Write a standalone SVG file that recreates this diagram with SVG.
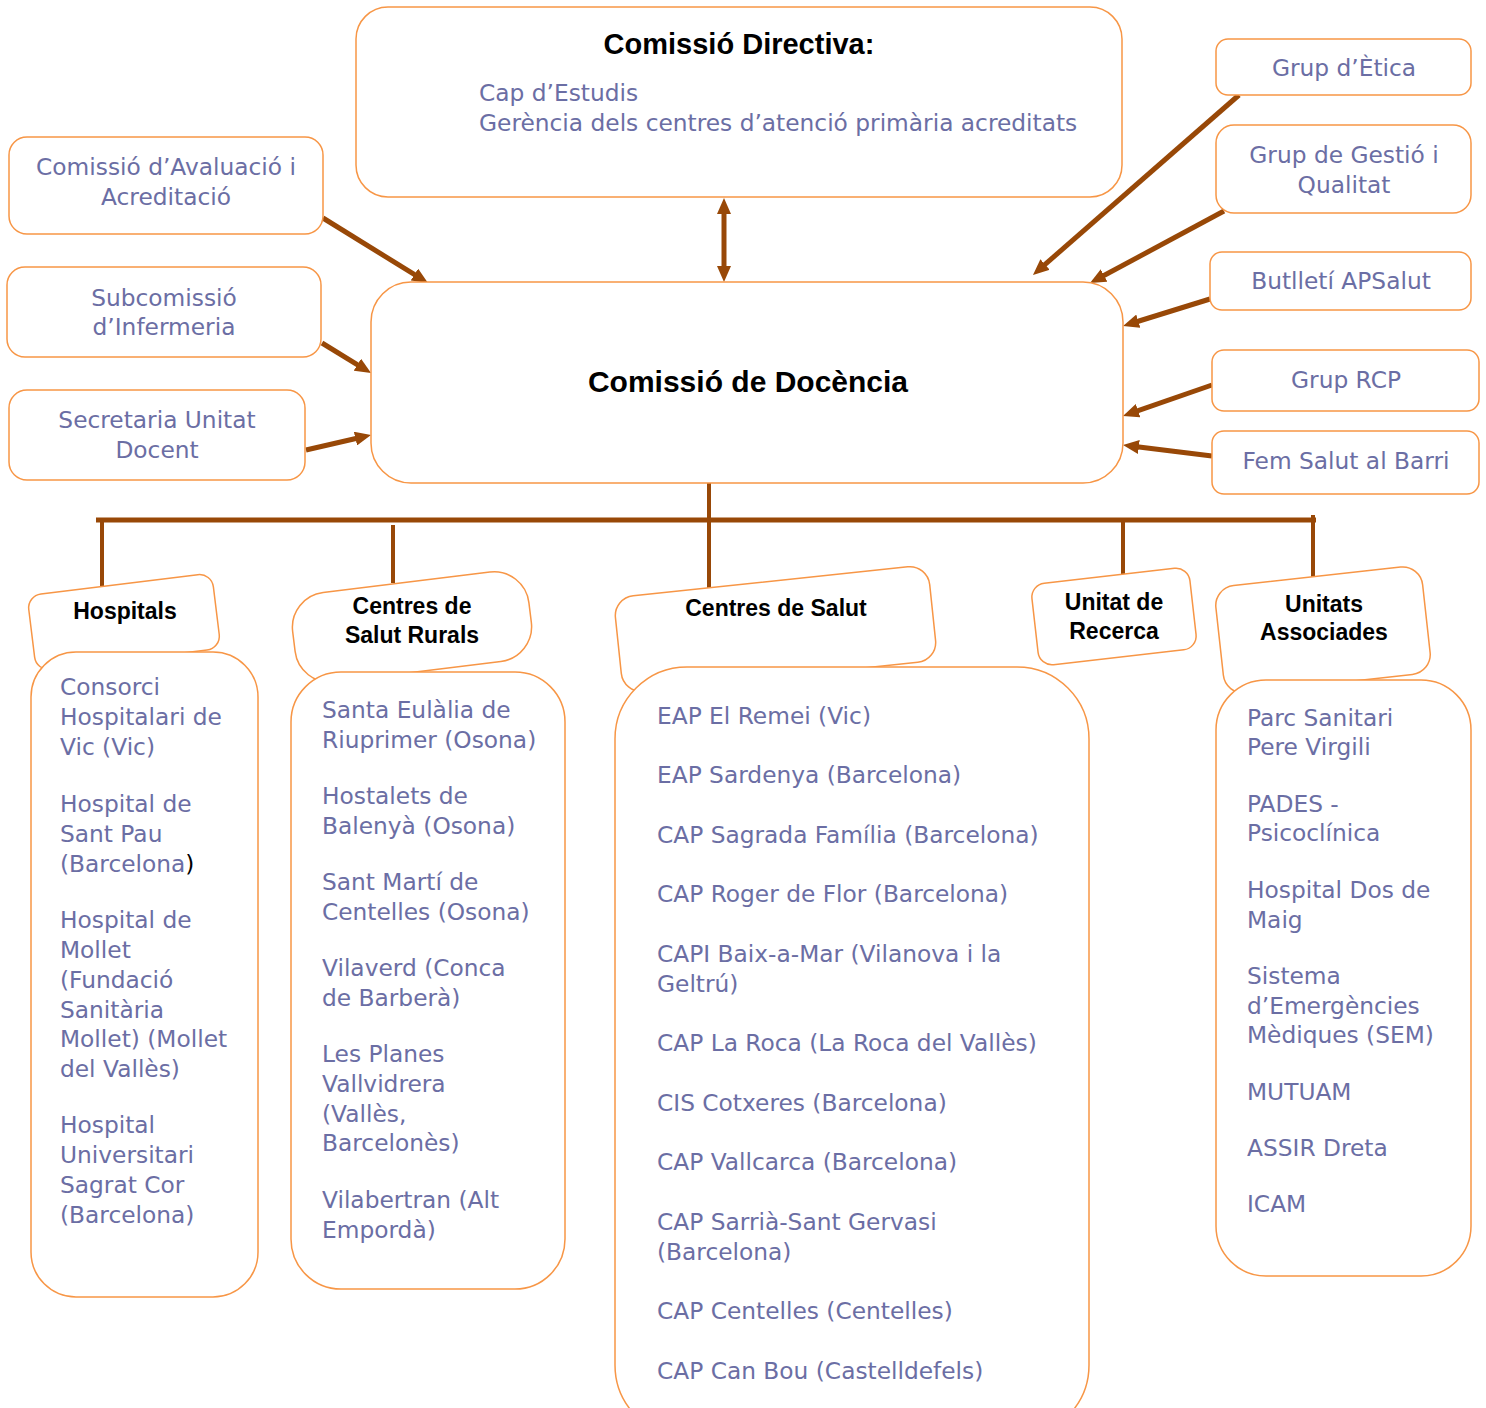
<svg xmlns="http://www.w3.org/2000/svg" width="1486" height="1408" viewBox="0 0 1486 1408">
<style>
.box{fill:#ffffff;stroke:#f79646;stroke-width:1.5}
.t{font-family:"DejaVu Sans","Liberation Sans",sans-serif;font-size:23.3px;fill:#6b6ea4}
.c{text-anchor:middle}
.h{font-family:"Liberation Sans",Arial,sans-serif;font-weight:bold;fill:#000000;text-anchor:middle}
.h1{font-size:29px}
.h2{font-size:30px}
.h3{font-size:23px}
.con{stroke:#984807;stroke-width:5;fill:none}
.tree{stroke:#984807;stroke-width:4;fill:none}
</style>
<defs>
<marker id="ah" viewBox="0 0 16 14" refX="6" refY="7" markerWidth="16" markerHeight="14" orient="auto-start-reverse" markerUnits="userSpaceOnUse">
<path d="M0,0 L16,7 L0,14 z" fill="#984807"/>
</marker>
</defs>

<g id="connectors">
<line class="con" x1="724" y1="208" x2="724" y2="272" marker-start="url(#ah)" marker-end="url(#ah)"/>
<line class="con" x1="323" y1="218" x2="419.5" y2="277.7" marker-end="url(#ah)"/>
<line class="con" x1="322" y1="343" x2="362.5" y2="367.8" marker-end="url(#ah)"/>
<line class="con" x1="306" y1="450" x2="361.3" y2="437.3" marker-end="url(#ah)"/>
<line class="con" x1="1239" y1="95" x2="1040.5" y2="268.4" marker-end="url(#ah)"/>
<line class="con" x1="1224" y1="211" x2="1098.8" y2="278.3" marker-end="url(#ah)"/>
<line class="con" x1="1210" y1="299" x2="1132.6" y2="323" marker-end="url(#ah)"/>
<line class="con" x1="1212" y1="385" x2="1132.4" y2="412.7" marker-end="url(#ah)"/>
<line class="con" x1="1212" y1="456" x2="1132.9" y2="446.2" marker-end="url(#ah)"/>
<line class="tree" x1="709" y1="483" x2="709" y2="520"/>
<line class="con" x1="96" y1="520" x2="1316" y2="520"/>
<line class="tree" x1="102" y1="520" x2="102" y2="587"/>
<line class="tree" x1="393" y1="525" x2="393" y2="583"/>
<line class="tree" x1="709" y1="520" x2="709" y2="588"/>
<line class="tree" x1="1123" y1="520" x2="1123" y2="575"/>
<line class="tree" x1="1313" y1="515" x2="1313" y2="577"/>
</g>

<g id="comissio-directiva">
<rect class="box" x="356" y="7" width="766" height="190" rx="32"/>
<text class="h h1" x="739" y="54">Comissió Directiva:</text>
<text class="t" x="479" y="101">Cap d’Estudis</text>
<text class="t" x="479" y="131">Gerència dels centres d’atenció primària acreditats</text>
</g>

<g id="comissio-docencia">
<rect class="box" x="371" y="282" width="752" height="201" rx="40"/>
<text class="h h2" x="748" y="392">Comissió de Docència</text>
</g>

<g id="avaluacio">
<rect class="box" x="9" y="137" width="314" height="97" rx="18"/>
<text class="t c" x="166" y="175">Comissió d’Avaluació i</text>
<text class="t c" x="166" y="205">Acreditació</text>
</g>
<g id="subcomissio">
<rect class="box" x="7" y="267" width="314" height="90" rx="18"/>
<text class="t c" x="164" y="306">Subcomissió</text>
<text class="t c" x="164" y="335">d’Infermeria</text>
</g>
<g id="secretaria">
<rect class="box" x="9" y="390" width="296" height="90" rx="18"/>
<text class="t c" x="157" y="428">Secretaria Unitat</text>
<text class="t c" x="157" y="458">Docent</text>
</g>

<g id="grup-etica">
<rect class="box" x="1216" y="39" width="255" height="56" rx="12"/>
<text class="t c" x="1344" y="76">Grup d’Ètica</text>
</g>
<g id="grup-gestio">
<rect class="box" x="1216" y="125" width="255" height="88" rx="18"/>
<text class="t c" x="1344" y="163">Grup de Gestió i</text>
<text class="t c" x="1344" y="193">Qualitat</text>
</g>
<g id="butlleti">
<rect class="box" x="1210" y="252" width="261" height="58" rx="12"/>
<text class="t c" x="1341" y="289">Butlletí APSalut</text>
</g>
<g id="grup-rcp">
<rect class="box" x="1212" y="350" width="267" height="61" rx="12"/>
<text class="t c" x="1346" y="388">Grup RCP</text>
</g>
<g id="fem-salut">
<rect class="box" x="1212" y="431" width="267" height="63" rx="12"/>
<text class="t c" x="1346" y="469">Fem Salut al Barri</text>
</g>

<g id="hospitals">
<rect class="box" x="31" y="584" width="186" height="76" rx="14" transform="rotate(-7 124 622)"/>
<rect class="box" x="31" y="652" width="227" height="645" rx="45"/>
<text class="h h3" x="125" y="619">Hospitals</text>
<text class="t" x="60" y="695">Consorci</text>
<text class="t" x="60" y="725">Hospitalari de</text>
<text class="t" x="60" y="755">Vic (Vic)</text>
<text class="t" x="60" y="812">Hospital de</text>
<text class="t" x="60" y="842">Sant Pau</text>
<text class="t" x="60" y="872">(Barcelona<tspan fill="#000000">)</tspan></text>
<text class="t" x="60" y="928">Hospital de</text>
<text class="t" x="60" y="958">Mollet</text>
<text class="t" x="60" y="988">(Fundació</text>
<text class="t" x="60" y="1018">Sanitària</text>
<text class="t" x="60" y="1047">Mollet) (Mollet</text>
<text class="t" x="60" y="1077">del Vallès)</text>
<text class="t" x="60" y="1133">Hospital</text>
<text class="t" x="60" y="1163">Universitari</text>
<text class="t" x="60" y="1193">Sagrat Cor</text>
<text class="t" x="60" y="1223">(Barcelona)</text>
</g>

<g id="centres-rurals">
<rect class="box" x="293" y="582" width="238" height="90" rx="35" transform="rotate(-7 412 627)"/>
<rect class="box" x="291" y="672" width="274" height="617" rx="50"/>
<text class="h h3" x="412" y="614">Centres de</text>
<text class="h h3" x="412" y="643">Salut Rurals</text>
<text class="t" x="322" y="718">Santa Eulàlia de</text>
<text class="t" x="322" y="748">Riuprimer (Osona)</text>
<text class="t" x="322" y="804">Hostalets de</text>
<text class="t" x="322" y="834">Balenyà (Osona)</text>
<text class="t" x="322" y="890">Sant Martí de</text>
<text class="t" x="322" y="920">Centelles (Osona)</text>
<text class="t" x="322" y="976">Vilaverd (Conca</text>
<text class="t" x="322" y="1006">de Barberà)</text>
<text class="t" x="322" y="1062">Les Planes</text>
<text class="t" x="322" y="1092">Vallvidrera</text>
<text class="t" x="322" y="1122">(Vallès,</text>
<text class="t" x="322" y="1151">Barcelonès)</text>
<text class="t" x="322" y="1208">Vilabertran (Alt</text>
<text class="t" x="322" y="1238">Empordà)</text>
</g>

<g id="centres-salut">
<rect class="box" x="617.5" y="581" width="316" height="96" rx="20" transform="rotate(-6 775.5 629)"/>
<rect class="box" x="615" y="667" width="474" height="770" rx="72"/>
<text class="h h3" x="776" y="616">Centres de Salut</text>
<text class="t" x="657" y="724">EAP El Remei (Vic)</text>
<text class="t" x="657" y="783">EAP Sardenya (Barcelona)</text>
<text class="t" x="657" y="843">CAP Sagrada Família (Barcelona)</text>
<text class="t" x="657" y="902">CAP Roger de Flor (Barcelona)</text>
<text class="t" x="657" y="962">CAPI Baix-a-Mar (Vilanova i la</text>
<text class="t" x="657" y="992">Geltrú)</text>
<text class="t" x="657" y="1051">CAP La Roca (La Roca del Vallès)</text>
<text class="t" x="657" y="1111">CIS Cotxeres (Barcelona)</text>
<text class="t" x="657" y="1170">CAP Vallcarca (Barcelona)</text>
<text class="t" x="657" y="1230">CAP Sarrià-Sant Gervasi</text>
<text class="t" x="657" y="1260">(Barcelona)</text>
<text class="t" x="657" y="1319">CAP Centelles (Centelles)</text>
<text class="t" x="657" y="1379">CAP Can Bou (Castelldefels)</text>
</g>

<g id="unitat-recerca">
<rect class="box" x="1034.5" y="575.5" width="159" height="82" rx="14" transform="rotate(-6.5 1114 616.5)"/>
<text class="h h3" x="1114" y="610">Unitat de</text>
<text class="h h3" x="1114" y="639">Recerca</text>
</g>

<g id="unitats-associades">
<rect class="box" x="1219" y="576" width="208" height="108" rx="20" transform="rotate(-6.3 1323 630)"/>
<rect class="box" x="1216" y="680" width="255" height="596" rx="50"/>
<text class="h h3" x="1324" y="612">Unitats</text>
<text class="h h3" x="1324" y="640">Associades</text>
<text class="t" x="1247" y="726">Parc Sanitari</text>
<text class="t" x="1247" y="755">Pere Virgili</text>
<text class="t" x="1247" y="812">PADES -</text>
<text class="t" x="1247" y="841">Psicoclínica</text>
<text class="t" x="1247" y="898">Hospital Dos de</text>
<text class="t" x="1247" y="928">Maig</text>
<text class="t" x="1247" y="984">Sistema</text>
<text class="t" x="1247" y="1014">d’Emergències</text>
<text class="t" x="1247" y="1043">Mèdiques (SEM)</text>
<text class="t" x="1247" y="1100">MUTUAM</text>
<text class="t" x="1247" y="1156">ASSIR Dreta</text>
<text class="t" x="1247" y="1212">ICAM</text>
</g>
</svg>
